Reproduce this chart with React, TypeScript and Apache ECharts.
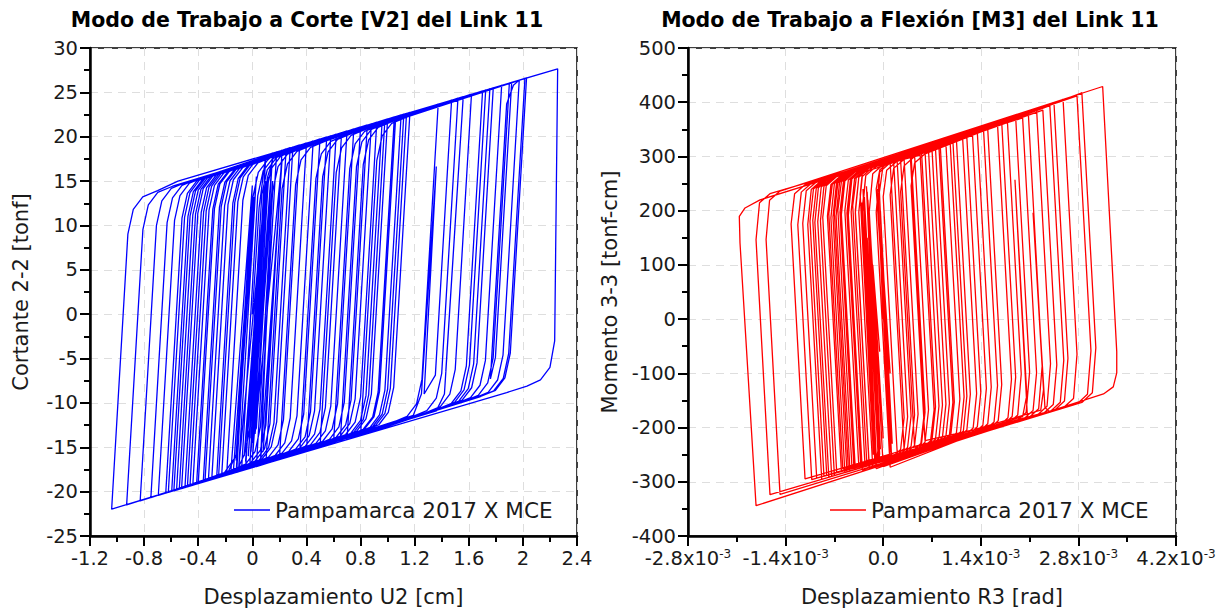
import React, { useEffect, useRef } from "react";
import * as echarts from "echarts";

const SERIES_NAME = "Pampamarca 2017 X MCE";
const shearTitle = "Modo de Trabajo a Corte [V2] del Link 11";
const momentTitle = "Modo de Trabajo a Flexión [M3] del Link 11";
const shearXName = "Desplazamiento U2 [cm]";
const shearYName = "Cortante 2-2 [tonf]";
const momentXName = "Desplazamiento R3 [rad]";
const momentYName = "Momento 3-3 [tonf-cm]";

// shear hysteresis path: [U2 (cm), V2 (tonf)]
const shearLoop: number[][] = [
  [0, 0], [0.05, 12], [0.10, 17.95],
  [-0.02, -13.05], [-0.06, -15.85], [-0.12, -17.84],
  [0.01, 13.2],
  [-0.11, -15.5], [-0.19, -18.16],
  [-0.07, 12.84], [-0.03, 15.64], [0.04, 17.04], [0.15, 18.18],
  [0.03, -12.82], [-0.01, -14.0],
  [0.11, 15.3], [0.16, 17.9], [0.22, 18.49],
  [0.10, -12.51], [0.06, -15.31], [-0.01, -16.71], [-0.08, -17.66],
  [0.04, 13.34], [0.08, 16.14], [0.15, 17.54], [0.26, 18.24], [0.30, 18.85],
  [0.18, -12.15], [0.14, -14.95], [0.07, -16.35], [-0.04, -17.05], [-0.141, -17.93],
  [0.0, 12.5],
  [-0.12, -16.0], [-0.227, -18.32],
  [-0.107, 12.68], [-0.067, 15.48], [0.003, 16.88], [0.113, 17.58], [0.40, 19.3],
  [0.28, -11.7], [0.24, -14.5], [0.17, -15.9], [0.06, -16.6], [-0.264, -18.49],
  [-0.144, 12.51], [-0.104, 15.31], [-0.034, 16.71], [0.076, 17.41], [0.50, 19.75],
  [0.38, -11.25], [0.34, -14.05], [0.27, -15.45], [0.16, -16.15], [-0.02, -17.39],
  [0.10, 13.61], [0.14, 16.41], [0.21, 17.81], [0.32, 18.51], [0.62, 20.29],
  [0.50, -10.71], [0.46, -13.51], [0.39, -14.91], [0.28, -15.61], [-0.325, -18.76],
  [-0.205, 12.24], [-0.165, 15.04], [-0.095, 16.44], [0.015, 17.14], [0.70, 20.65],
  [0.58, -10.35], [0.54, -13.15], [0.47, -14.55], [0.36, -15.25], [-0.05, -17.53],
  [0.07, 13.47], [0.11, 16.27], [0.18, 17.67], [0.29, 18.37], [0.45, 19.53],
  [0.33, -11.47], [0.29, -14.27], [0.22, -15.67], [0.11, -16.37], [-0.363, -18.93],
  [-0.243, 12.07], [-0.203, 14.87], [-0.133, 16.27], [-0.023, 16.97], [0.80, 21.1],
  [0.68, -9.9], [0.64, -12.7], [0.57, -14.1], [0.46, -14.8], [0.10, -16.85],
  [0.22, 14.15], [0.26, 16.95], [0.33, 18.35], [0.44, 19.05], [0.92, 21.64],
  [0.80, -9.36], [0.76, -12.16], [0.69, -13.56], [0.58, -14.26], [-0.412, -19.15],
  [-0.292, 11.85], [-0.252, 14.65], [-0.182, 16.05], [-0.072, 16.75], [1.05, 22.23],
  [0.93, -8.77], [0.89, -11.57], [0.82, -12.97], [0.71, -13.67], [0.20, -16.4],
  [0.32, 14.6], [0.36, 17.4], [0.43, 18.8], [0.54, 19.5], [1.165, 22.74],
  [1.045, -8.26], [1.005, -11.06], [0.935, -12.46], [0.825, -13.16], [-0.461, -19.37],
  [-0.341, 11.63], [-0.301, 14.43], [-0.231, 15.83], [-0.121, 16.53], [0.25, 18.63],
  [0.13, -12.37], [0.09, -15.17], [0.02, -16.57], [-0.09, -17.27], [-0.498, -19.54],
  [-0.378, 11.46], [-0.338, 14.26], [-0.268, 15.66], [-0.158, 16.36], [1.14, 22.63],
  [1.02, -8.37], [0.98, -11.17], [0.91, -12.57], [0.80, -13.27], [0.35, -15.73],
  [0.47, 15.27], [0.51, 18.07], [0.58, 19.47], [0.69, 20.17], [1.374, 23.68],
  [1.254, -7.32], [1.214, -10.12], [1.144, -11.52], [1.034, -12.22], [-0.523, -19.65],
  [-0.403, 11.35], [-0.363, 14.15], [-0.293, 15.55], [-0.183, 16.25], [0.55, 19.98],
  [0.43, -11.02], [0.39, -13.82], [0.32, -15.22], [0.21, -15.92], [-0.56, -19.82],
  [-0.44, 11.18], [-0.40, 13.98], [-0.33, 15.38], [-0.22, 16.08], [1.10, 22.45],
  [0.98, -8.55], [0.94, -11.35], [0.87, -12.75], [0.76, -13.45], [0.50, -15.05],
  [0.62, 15.95], [0.66, 18.75], [0.73, 20.15], [0.84, 20.85], [1.473, 24.13],
  [1.353, -6.87], [1.27, -9.0],
  [1.36, 16.65],
  [1.25, -9.0], [1.19, -11.4], [-0.116, -17.82],
  [0.004, 13.18], [0.044, 15.98], [0.114, 17.38], [0.18, 18.31],
  [0.06, -12.69], [0.02, -15.49], [-0.05, -16.89], [-0.16, -17.59], [-0.596, -19.98],
  [-0.476, 11.02], [-0.436, 13.82], [-0.366, 15.22], [-0.256, 15.92], [1.559, 24.52],
  [1.43, -6.5],
  [1.51, 12.7],
  [1.42, -9.0], [1.36, -10.9], [-0.621, -20.09],
  [-0.501, 10.91], [-0.461, 13.71], [-0.391, 15.11], [-0.281, 15.81], [0.98, 21.91],
  [0.86, -9.09], [0.82, -11.89], [0.75, -13.29], [0.64, -13.99], [0.60, -14.6],
  [0.72, 16.4], [0.76, 19.2], [0.83, 20.6], [0.94, 21.3], [1.702, 25.16],
  [1.582, -5.84], [1.542, -8.64], [1.472, -10.04], [1.362, -10.74], [-0.695, -20.43],
  [-0.575, 10.57], [-0.535, 13.37], [-0.465, 14.77], [-0.355, 15.47], [0.35, 19.08],
  [0.23, -11.92], [0.19, -14.72], [0.12, -16.12], [0.01, -16.82], [-0.19, -18.16],
  [-0.07, 12.84], [-0.03, 15.64], [0.04, 17.04], [0.15, 17.74], [0.88, 21.46],
  [0.76, -9.54], [0.72, -12.34], [0.65, -13.74], [0.54, -14.44], [-0.829, -21.03],
  [-0.709, 9.97], [-0.669, 12.77], [-0.599, 14.17], [-0.489, 14.87], [1.725, 25.26],
  [1.605, -5.74], [1.565, -8.54], [1.495, -9.94], [1.385, -10.64], [0.03, -17.17],
  [0.15, 13.83], [0.19, 16.63], [0.26, 18.03], [0.37, 18.73], [0.75, 20.88],
  [0.63, -10.12], [0.59, -12.92], [0.52, -14.32], [0.41, -15.02], [-0.929, -21.48],
  [-0.809, 9.52], [-0.769, 12.32], [-0.699, 13.72], [-0.589, 14.42], [1.756, 25.4],
  [1.636, -5.6], [1.596, -8.4], [1.526, -9.8], [1.416, -10.5], [0.80, -13.7],
  [0.92, 17.3], [0.96, 20.1], [1.03, 21.5], [1.14, 22.2], [2.027, 26.62],
  [1.907, -4.38], [1.867, -7.18], [1.797, -8.58], [1.687, -9.28], [-0.08, -17.66],
  [0.04, 13.34], [0.08, 16.14], [0.15, 17.54], [0.26, 18.24], [1.781, 25.51],
  [1.661, -5.49], [1.621, -8.29], [1.551, -9.69], [1.441, -10.39], [0.70, -14.15],
  [0.82, 16.85], [0.86, 19.65], [0.93, 21.05], [1.04, 21.75], [1.917, 26.13],
  [1.797, -4.87], [1.76, -7.3],
  [1.88, 23.7], [1.93, 25.8], [1.973, 26.38],
  [1.853, -4.62], [1.813, -7.42], [1.743, -8.82], [1.633, -9.52], [-1.04, -21.98],
  [-0.92, 9.02], [-0.88, 11.82], [-0.81, 13.22], [-0.70, 13.92], [-0.55, 15.0], [2.257, 27.66],
  [2.235, -3.0], [2.2, -6.0], [2.13, -7.4], [2.03, -8.1], [1.88, -8.84], [-0.40, -19.1],
  [-0.28, 11.9], [-0.24, 14.7], [-0.17, 16.1], [-0.06, 16.8], [2.015, 26.57],
  [1.895, -4.43], [1.855, -7.23], [1.785, -8.63], [1.675, -9.33], [-0.30, -18.65],
  [-0.18, 12.35], [-0.14, 15.15], [-0.07, 16.55], [0.04, 17.25], [1.843, 25.79],
  [1.723, -5.21], [1.683, -8.01], [1.613, -9.41], [1.503, -10.11], [-0.25, -18.43],
  [-0.13, 12.57], [-0.09, 15.37], [-0.02, 16.77], [0.09, 17.47], [1.12, 22.54],
  [1.00, -8.46], [0.96, -11.26], [0.89, -12.66], [0.78, -13.36], [-0.35, -18.88],
  [-0.23, 12.12], [-0.19, 14.92], [-0.12, 16.32], [-0.01, 17.02], [0.66, 20.47],
  [0.54, -10.53], [0.50, -13.33], [0.43, -14.73], [0.32, -15.43], [-0.44, -19.28],
  [-0.32, 11.72], [-0.28, 14.52], [-0.21, 15.92], [-0.10, 16.62], [1.06, 22.27],
  [0.94, -8.73], [0.90, -11.53], [0.83, -12.93], [0.72, -13.63], [0.40, -15.5],
  [0.52, 15.5], [0.56, 18.3], [0.63, 19.7], [0.74, 20.4], [1.62, 24.79],
  [1.50, -6.21], [1.46, -9.01], [1.39, -10.41], [1.28, -11.11], [-0.48, -19.46],
  [-0.36, 11.54], [-0.32, 14.34], [-0.25, 15.74], [-0.14, 16.44], [0.85, 21.33],
  [0.73, -9.67], [0.69, -12.47], [0.62, -13.87], [0.51, -14.57], [-0.54, -19.73],
  [-0.42, 11.27], [-0.38, 14.07], [-0.31, 15.47], [-0.20, 16.17], [1.00, 22.0],
  [0.88, -9.0], [0.84, -11.8], [0.77, -13.2], [0.66, -13.9], [0.60, -14.6],
  [0.72, 16.4], [0.76, 19.2], [0.83, 20.6], [0.94, 21.3], [1.90, 26.05],
  [1.78, -4.95], [1.74, -7.75], [1.67, -9.15], [1.56, -9.85], [-0.58, -19.91],
  [-0.46, 11.09], [-0.42, 13.89], [-0.35, 15.29], [-0.24, 15.99], [0.58, 20.11],
  [0.46, -10.89], [0.42, -13.69], [0.35, -15.09], [0.24, -15.79], [-0.64, -20.18],
  [-0.52, 10.82], [-0.48, 13.62], [-0.41, 15.02], [-0.30, 15.72], [0.28, 18.76],
  [0.16, -12.24], [0.12, -15.04], [0.05, -16.44], [-0.06, -17.14], [-0.75, -20.68],
  [-0.63, 10.32], [-0.59, 13.12], [-0.52, 14.52], [-0.41, 15.22], [0.96, 21.82],
  [0.84, -9.18], [0.80, -11.98], [0.73, -13.38], [0.65, -14.38],
  [0.77, 16.62], [0.81, 19.42], [0.88, 20.82], [0.99, 21.52], [1.52, 24.34],
  [1.40, -6.66], [1.36, -9.46], [1.29, -10.86], [1.18, -11.56], [-0.16, -18.02],
  [0.0, 14.5], [-0.12, -16.5], [0.03, 15.5], [-0.10, -17.2], [0.10, 15.0], [-0.03, -16.0],
  [0.11, 14.5], [-0.05, -16.6], [0.08, 12.0], [-0.06, -16.0], [0.12, 15.5], [0.0, -14.5],
  [0.13, 14.0], [-0.01, -15.5], [0.14, 16.0], [0.02, -13.5], [0.22, 17.5], [0.08, -15.5],
  [0.21, 15.0], [0.06, -16.8], [0.15, 15.0], [0.0, -16.5], [0.09, 8.0], [0.02, -10],
  [0.07, 5], [0.05, 1],
];

// moment hysteresis path: [R3 (x10^-3 rad), M3 (tonf-cm)]
const momentLoop: number[][] = [
  [0, 0], [-0.07, 220], [0.0, 285], [0.25, 293.3],
  [0.45, -176.7], [0.40, -234.8], [0.25, -252.5], [-0.20, -269.6],
  [-0.40, 200.4], [-0.35, 261.5], [-0.20, 278.4], [0.40, 303.2],
  [0.60, -166.8], [0.55, -229.1], [0.40, -246.8], [-0.30, -278.4],
  [-0.50, 191.6], [-0.45, 258.2], [-0.30, 275.1], [0.10, 288.3],
  [0.30, -181.7], [0.25, -240.5], [0.10, -258.2], [-0.40, -277.2],
  [-0.60, 192.8], [-0.55, 254.9], [-0.40, 271.8], [0.55, 308.2],
  [0.75, -161.8], [0.70, -223.4], [0.55, -241.1], [-0.05, -263.9],
  [-0.23, 150],
  [-0.06, -230], [-0.10, -262], [-0.50, -276],
  [-0.70, 194], [-0.65, 251.6], [-0.50, 268.5], [0.70, 313.1],
  [0.90, -156.9], [0.85, -217.7], [0.70, -235.4], [-0.237, -261.0],
  [-0.437, 209], [-0.387, 260.2], [-0.237, 277.2], [0.82, 317.1],
  [1.02, -152.9], [0.97, -213.1], [0.82, -230.8], [-0.55, -282.9],
  [-0.75, 187.1], [-0.70, 249.9], [-0.55, 266.9], [0.30, 294.9],
  [0.50, -175.1], [0.45, -232.9], [0.30, -250.6], [-0.667, -282.3],
  [-0.867, 187.7], [-0.817, 246.0], [-0.667, 263.0], [0.96, 326.7],
  [1.16, -143.3], [1.11, -207.8], [0.96, -225.5], [-0.10, -275.8],
  [-0.30, 194.2], [-0.25, 264.8], [-0.10, 281.7], [1.14, 332.6],
  [1.34, -137.4], [1.29, -201.0], [1.14, -218.7], [-0.739, -290.1],
  [-0.939, 179.9], [-0.889, 243.7], [-0.739, 260.6], [0.53, 302.5],
  [0.73, -167.5], [0.68, -224.2], [0.53, -241.9], [-0.81, -287.8],
  [-1.01, 182.2], [-0.96, 241.3], [-0.81, 258.3], [1.28, 342.2],
  [1.48, -127.8], [1.43, -195.7], [1.28, -213.4], [0.10, -273.2],
  [-0.10, 196.8], [-0.05, 271.4], [0.10, 288.3], [1.44, 347.5],
  [1.64, -122.5], [1.59, -189.6], [1.44, -207.3], [-0.882, -295.5],
  [-1.082, 174.5], [-1.032, 238.9], [-0.882, 255.9], [0.39, 297.9],
  [0.59, -172.1], [0.54, -229.5], [0.39, -247.2], [-0.954, -293.3],
  [-1.154, 176.7], [-1.104, 236.6], [-0.954, 253.5], [1.64, 359.1],
  [1.84, -110.9], [1.79, -182.0], [1.64, -199.7], [0.30, -240.6],
  [0.10, 229.4], [0.15, 278.0], [0.30, 294.9], [2.29, 385.6],
  [2.49, -84.4], [2.44, -157.3], [2.29, -175.0], [2.07, -183.3],
  [1.89, 257.0],
  [2.06, -140], [2.00, -180], [-1.025, -296.0],
  [-1.225, 174.0], [-1.175, 234.2], [-1.025, 251.2], [1.78, 368.7],
  [1.98, -101.3], [1.93, -176.7], [1.78, -194.4], [-0.476, -280.1],
  [-0.676, 189.9], [-0.626, 252.3], [-0.476, 269.3], [2.08, 383.6],
  [2.28, -86.4], [2.23, -165.3], [2.08, -183.0], [0.45, -234.9],
  [0.25, 235.1], [0.30, 282.9], [0.45, 299.9], [2.39, 393.9],
  [2.59, -76.1], [2.54, -153.5], [2.39, -171.2], [2.32, -163],
  [2.15, 196],
  [2.30, -130], [2.26, -168], [-1.121, -294.6],
  [-1.321, 175.4], [-1.271, 231.1], [-1.121, 248.0], [2.20, 387.6],
  [2.40, -82.4], [2.35, -160.7], [2.20, -178.4], [0.60, -224.2],
  [0.40, 245.8], [0.45, 287.9], [0.60, 304.8], [2.58, 405.1],
  [2.78, -64.9], [2.73, -146.3], [2.58, -164.0], [-0.404, -277.4],
  [-0.604, 192.6], [-0.554, 254.7], [-0.404, 271.7], [2.78, 411.7],
  [2.98, -58.3], [2.93, -138.7], [2.78, -156.4], [0.20, -244.4],
  [0.0, 225.6], [0.05, 274.7], [0.20, 291.6], [2.85, 417.1],
  [3.05, -52.9], [3.00, -136.0], [2.85, -153.7], [-1.48, -323.2],
  [-1.68, 146.8], [-1.63, 219.2], [-1.48, 236.2], [3.148, 429.0],
  [3.35, -60], [3.35, -99], [3.30, -125], [3.16, -138], [-1.824, -344.0],
  [-2.054, 140.5], [-2.064, 189.5], [-1.982, 205], [-1.767, 220], [2.00, 371.0],
  [2.20, -99.0], [2.15, -168.3], [2.00, -186.0], [-1.624, -323.7],
  [-1.824, 146.3], [-1.774, 214.5], [-1.624, 231.4], [1.50, 349.5],
  [1.70, -120.5], [1.65, -187.3], [1.50, -205.0], [-0.308, -268.7],
  [-0.508, 201.3], [-0.458, 257.9], [-0.308, 274.8], [0.80, 316.4],
  [1.00, -153.6], [0.95, -213.9], [0.80, -231.6], [-0.20, -274.6],
  [-0.40, 195.4], [-0.35, 261.5], [-0.20, 278.4], [0.40, 298.2],
  [0.60, -171.8], [0.55, -229.1], [0.40, -246.8], [-0.10, -265.8],
  [-0.30, 204.2], [-0.25, 264.8], [-0.10, 281.7], [1.20, 334.6],
  [1.40, -135.4], [1.35, -198.7], [1.20, -216.4], [-0.60, -279.8],
  [-0.80, 190.2], [-0.75, 248.3], [-0.60, 265.2], [0.15, 290.0],
  [0.35, -180.0], [0.30, -238.6], [0.15, -256.3], [-0.35, -270.3],
  [-0.55, 199.7], [-0.50, 256.5], [-0.35, 273.5], [0.90, 322.7],
  [1.10, -147.3], [1.05, -210.1], [0.90, -227.8], [-0.70, -288.6],
  [-0.90, 181.4], [-0.85, 245.0], [-0.70, 261.9], [0.60, 309.8],
  [0.80, -160.2], [0.75, -221.5], [0.60, -239.2], [-0.45, -269.1],
  [-0.65, 200.9], [-0.60, 253.2], [-0.45, 270.2], [1.90, 372.7],
  [2.10, -97.3], [2.05, -172.1], [1.90, -189.8], [-0.15, -272.7],
  [-0.35, 197.3], [-0.30, 263.1], [-0.15, 280.1], [0.25, 293.3],
  [0.45, -176.7], [0.40, -234.8], [0.25, -252.5], [-0.05, -263.9],
  [-0.23, 235], [-0.05, -250], [-0.24, 245], [-0.07, -258], [-0.27, 225], [-0.10, -255],
  [-0.29, 240], [-0.12, -262], [-0.31, 215], [-0.14, -250], [-0.33, 230],
  [-0.30, 270], [0.30, 294.9],
  [0.50, -175.1], [0.45, -232.9], [0.30, -250.6], [0.10, -258],
  [-0.08, 240], [0.10, -245], [-0.06, 250], [0.12, -255], [-0.04, 200], [0.13, -230],
  [-0.03, 150], [0.10, -100], [0.0, 50],
  [-0.10, 240], [-0.05, 275], [0.05, 286.7], [1.05, 331.7],
  [1.25, -138.3], [1.20, -204.4], [1.05, -222.1], [-0.52, -281.8],
  [-0.72, 188.2], [-0.67, 250.9], [-0.52, 267.8], [0.45, 302.9],
  [0.65, -167.1], [0.60, -227.2], [0.45, -244.9], [-0.85, -289.3],
  [-1.05, 180.7], [-1.00, 240.0], [-0.85, 257.0], [1.35, 344.6],
  [1.55, -125.4], [1.50, -193.0], [1.35, -210.7], [0.0, -272.0],
  [-0.20, 198.0], [-0.15, 268.1], [0.0, 285.0], [0.75, 314.8],
  [0.95, -155.2], [0.90, -215.8], [0.75, -233.5], [-0.26, -271.9],
  [-0.46, 198.1], [-0.41, 259.5], [-0.26, 276.4], [1.70, 363.1],
  [1.90, -106.9], [1.85, -179.7], [1.70, -197.4], [-0.42, -273.0],
  [-0.62, 197.0], [-0.57, 254.2], [-0.42, 271.1], [0.20, 291.6],
  [0.40, -178.4], [0.35, -236.7], [0.20, -254.4], [-0.32, -274.2],
  [-0.52, 195.8], [-0.47, 257.5], [-0.32, 274.4], [1.00, 328.0],
  [1.20, -142.0], [1.15, -206.3], [1.00, -224.0], [-0.78, -291.6],
  [-0.98, 178.4], [-0.93, 242.3], [-0.78, 259.3], [2.45, 397.9],
  [2.65, -72.1], [2.60, -151.2], [2.45, -168.9], [-0.58, -276.0],
  [-0.78, 194.0], [-0.73, 248.9], [-0.58, 265.9], [0.65, 311.5],
  [0.85, -158.5], [0.80, -219.6], [0.65, -237.3], [-0.05, -263.9],
  [-0.22, 220], [-0.04, -240], [-0.20, 190], [0.0, -220], [-0.15, 100], [-0.05, -60], [-0.10, 20],
];

// axis ranges / tick steps
const shearX = { min: -1.2, max: 2.4, step: 0.4 };
const shearY = { min: -25, max: 30, step: 5 };
const momentX = { min: -2.8, max: 4.2, step: 1.4 };
const momentY = { min: -400, max: 500, step: 100 };

const FONT = "'DejaVu Sans', sans-serif";
const INK = "#1a1a1a";

function axisBase(extra: any) {
  return {
    type: "value",
    axisLine: { show: true, onZero: false, lineStyle: { color: "#000", width: 2.5 } },
    axisTick: { show: true, inside: false, length: 10, lineStyle: { color: "#000", width: 2 } },
    minorTick: { show: true, splitNumber: 2, length: 6, lineStyle: { color: "#000", width: 2 } },
    splitLine: { show: true, lineStyle: { color: "#dedede", width: 1, type: [8, 6] } },
    axisLabel: { fontSize: 19.5, color: INK, fontFamily: FONT, margin: 12 },
    nameLocation: "middle",
    nameTextStyle: { fontSize: 21, color: INK, fontFamily: FONT },
    ...extra,
  };
}

export default function App() {
  const ref = useRef<HTMLDivElement>(null);
  useEffect(() => {
    const chart = echarts.init(ref.current!, null, { renderer: "svg" });
    const legendBase = {
      itemWidth: 36, itemHeight: 1.6, icon: "rect", top: 494,
      formatter: () => SERIES_NAME,
      textStyle: { fontSize: 21.5, color: INK, fontFamily: FONT },
    };
    chart.setOption({
      animation: false,
      backgroundColor: "#fff",
      title: [
        { text: shearTitle, left: 302, top: 4, textAlign: "center", textStyle: { fontSize: 20.5, fontWeight: "bold", color: "#000", fontFamily: FONT } },
        { text: momentTitle, left: 905, top: 4, textAlign: "center", textStyle: { fontSize: 20.5, fontWeight: "bold", color: "#000", fontFamily: FONT } },
      ],
      grid: [
        { left: 90, top: 48, width: 487, height: 489, show: true, borderColor: "#000", borderWidth: 1.5, backgroundColor: "transparent" },
        { left: 688, top: 48, width: 488, height: 489, show: true, borderColor: "#000", borderWidth: 1.5, backgroundColor: "transparent" },
      ],
      xAxis: [
        axisBase({ gridIndex: 0, min: shearX.min, max: shearX.max, interval: shearX.step, name: shearXName, nameGap: 50 }),
        axisBase({
          gridIndex: 1, min: momentX.min, max: momentX.max, interval: momentX.step, name: momentXName, nameGap: 50,
          axisLabel: {
            fontSize: 19.5, color: INK, fontFamily: FONT, margin: 12,
            formatter: (v: number) => (Math.abs(v) < 1e-9 ? "0.0" : `${v.toFixed(1)}x10{sup|-3}`),
            rich: { sup: { fontSize: 12, color: INK, fontFamily: FONT, verticalAlign: "top", padding: [0, 0, 8, 0] } },
          },
        }),
      ],
      yAxis: [
        axisBase({ gridIndex: 0, min: shearY.min, max: shearY.max, interval: shearY.step, name: shearYName, nameGap: 59 }),
        axisBase({ gridIndex: 1, min: momentY.min, max: momentY.max, interval: momentY.step, name: momentYName, nameGap: 68 }),
      ],
      legend: [
        { ...legendBase, data: ["shear"], left: 229 },
        { ...legendBase, data: ["moment"], left: 825 },
      ],
      series: [
        {
          name: "shear", type: "line", xAxisIndex: 0, yAxisIndex: 0, data: shearLoop,
          symbol: "none", showSymbol: false, clip: true,
          lineStyle: { color: "#0000ff", width: 1.3 }, itemStyle: { color: "#0000ff" },
        },
        {
          name: "moment", type: "line", xAxisIndex: 1, yAxisIndex: 1, data: momentLoop,
          symbol: "none", showSymbol: false, clip: true,
          lineStyle: { color: "#ff0000", width: 1.3 }, itemStyle: { color: "#ff0000" },
        },
      ],
    });
    return () => chart.dispose();
  }, []);
  return (
    <div
      ref={ref}
      style={{ position: "fixed", left: 0, top: 0, width: 1225, height: 612, background: "#fff" }}
    />
  );
}
